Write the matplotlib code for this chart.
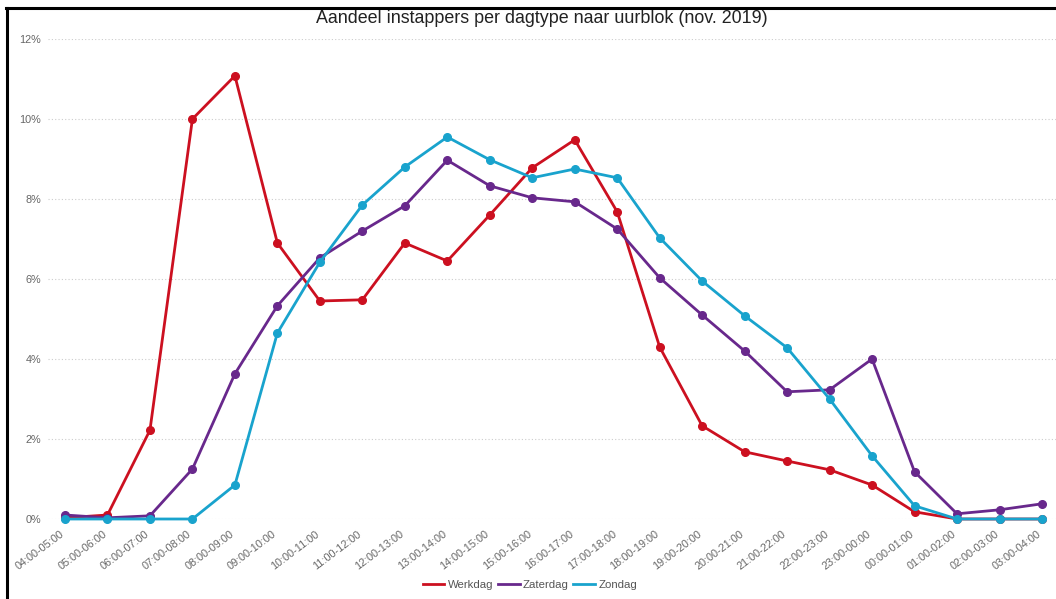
import numpy as np
import matplotlib
matplotlib.use('Agg')
import matplotlib.pyplot as plt
from matplotlib.lines import Line2D
from matplotlib.ticker import FuncFormatter
from matplotlib.transforms import ScaledTranslation

uurblokken = ['04:00-05:00', '05:00-06:00', '06:00-07:00', '07:00-08:00', '08:00-09:00',
              '09:00-10:00', '10:00-11:00', '11:00-12:00', '12:00-13:00', '13:00-14:00',
              '14:00-15:00', '15:00-16:00', '16:00-17:00', '17:00-18:00', '18:00-19:00',
              '19:00-20:00', '20:00-21:00', '21:00-22:00', '22:00-23:00', '23:00-00:00',
              '00:00-01:00', '01:00-02:00', '02:00-03:00', '03:00-04:00']

werkdag = [0.03, 0.10, 2.22, 10.00, 11.08, 6.90, 5.45, 5.48, 6.90, 6.45, 7.60, 8.78,
           9.48, 7.68, 4.30, 2.33, 1.68, 1.45, 1.23, 0.85, 0.18, 0.0, 0.0, 0.0]
zaterdag = [0.10, 0.03, 0.08, 1.25, 3.63, 5.33, 6.53, 7.20, 7.83, 8.97, 8.33, 8.03,
            7.93, 7.25, 6.03, 5.10, 4.20, 3.18, 3.23, 4.00, 1.18, 0.13, 0.23, 0.38]
zondag = [0.0, 0.0, 0.0, 0.0, 0.85, 4.65, 6.42, 7.85, 8.80, 9.55, 8.98, 8.53,
          8.75, 8.53, 7.03, 5.95, 5.08, 4.28, 3.00, 1.58, 0.33, 0.0, 0.0, 0.0]

series = [('Werkdag', werkdag, '#cc1020'),
          ('Zaterdag', zaterdag, '#68288c'),
          ('Zondag', zondag, '#19a3cd')]

plt.rcParams['font.family'] = ['Liberation Sans', 'DejaVu Sans']

fig = plt.figure(figsize=(10.56, 5.99), dpi=100)
ax = fig.add_axes([48/1056, 1-519/599, 1-48/1056, (519-39)/599])

x = np.arange(len(uurblokken))
for naam, vals, kleur in series:
    ax.plot(x, vals, color=kleur, lw=2.0, marker='o', ms=5.5, label=naam,
            clip_on=False, zorder=3)

ax.set_xlim(-0.4, 23.33)
ax.set_ylim(0, 12)
ax.set_yticks(np.arange(0, 13, 2))
ax.yaxis.set_major_formatter(FuncFormatter(lambda v, p: '%d%%' % v))
ax.set_xticks(x)
ax.set_xticklabels(uurblokken, rotation=37, ha='right', rotation_mode='anchor')
ax.tick_params(axis='both', length=0, labelsize=7.8, colors='#666666')
ax.tick_params(axis='x', pad=7)
ax.tick_params(axis='y', pad=5)
ax.grid(axis='y', ls=(0, (1, 2)), color='#cccccc', lw=0.8)
for s in ax.spines.values():
    s.set_visible(False)
schuif = ScaledTranslation(-5/100, 0, fig.dpi_scale_trans)
for lbl in ax.get_xticklabels():
    lbl.set_transform(lbl.get_transform() + schuif)

fig.text(0.513, 1-23/599, 'Aandeel instappers per dagtype naar uurblok (nov. 2019)',
         ha='center', va='baseline', fontsize=12.9, color='#222222')

leg = ax.legend(loc='center', bbox_to_anchor=(530/1056, 1-585/599),
                bbox_transform=fig.transFigure, ncol=3, frameon=False,
                fontsize=8.2, handlelength=1.9, columnspacing=0.4, handletextpad=0.3)
for t in leg.get_texts():
    t.set_color('#555555')
for h in leg.legend_handles:
    h.set_marker('')

# zwarte rand links en boven
fig.add_artist(Line2D([7/1056, 7/1056], [0, 1-8/599], color='black', lw=2.2))
fig.add_artist(Line2D([6/1056, 1], [1-8/599, 1-8/599], color='black', lw=2.2))

plt.savefig('out.png', dpi=100)
